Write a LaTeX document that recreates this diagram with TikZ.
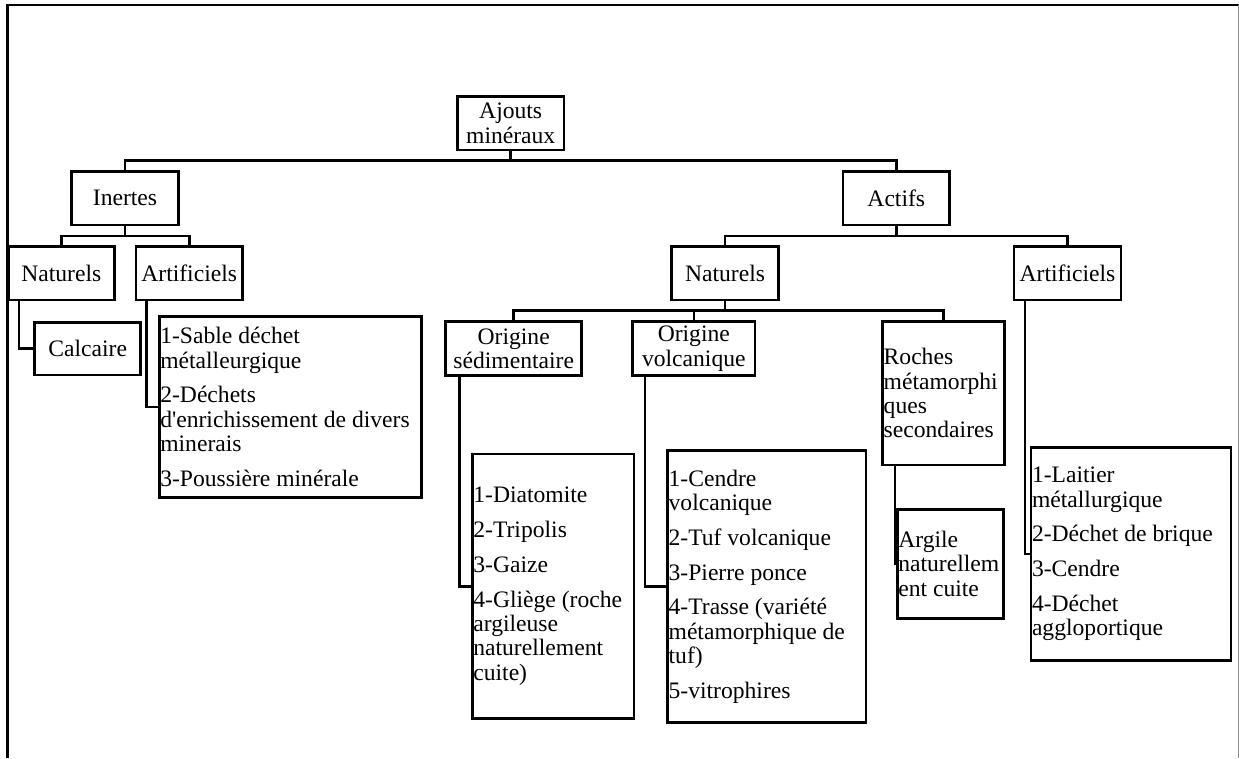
\documentclass[tikz,border=0pt]{standalone}
\usepackage{fontspec}
\newfontfamily\dfont{Liberation Serif}
\newcommand\dsize{\dfont\fontsize{23.6pt}{24.3pt}\selectfont}
\begin{document}
\begin{tikzpicture}[x=1pt,y=-1pt,
  box/.style={draw, line width=2.6pt, inner xsep=1pt, inner ysep=0pt, outer sep=0pt, font=\dsize},
  cbox/.style={box, align=flush center},
  lbox/.style={box, align=flush left},
  bsize/.style n args={2}{minimum width=#1, minimum height=#2},
  lsize/.style n args={3}{minimum width=#1, minimum height=#2, text width=#3},
  link/.style={line width=2.6pt}]
\useasboundingbox (0,0) rectangle (1239,758);
\fill[white] (0,0) rectangle (1239,758);
% frame
\draw[line width=2.2pt] (6,5) -- (1239,5);
\draw[line width=3.4pt] (7.6,4) -- (7.6,758);
\draw[line width=1pt, black!45] (1238.3,5) -- (1238.3,758);

% level 0-2
\node[cbox, bsize={106.7pt}{53.7pt}] (ajouts) at (510.7,123.2) {Ajouts\\minéraux};
\node[cbox, bsize={106.6pt}{53.3pt}] (inertes) at (125,198.3) {Inertes};
\node[cbox, bsize={106.7pt}{53.3pt}] (actifs) at (896.3,198.3) {Actifs};
\node[cbox, bsize={106pt}{53.3pt}] (natL) at (61.3,273.3) {Naturels};
\node[cbox, bsize={106.3pt}{53.3pt}] (artL) at (189.2,273.3) {Artificiels};
\node[cbox, bsize={106.6pt}{53.3pt}] (natR) at (725,273.3) {Naturels};
\node[cbox, bsize={107pt}{53.3pt}] (artR) at (1067.5,273.3) {Artificiels};

% level 3
\node[cbox, bsize={106pt}{52.7pt}] (calcaire) at (87.7,348.7) {Calcaire};
\node[lbox, lsize={262.4pt}{180.6pt}{260.4pt}] (sable) at (290.5,407)
  {1-Sable déchet\\métalleurgique\\[10.5pt]2-Déchets\\d'enrichissement de divers\\minerais\\[10.5pt]3-Poussière minérale};
\node[cbox, bsize={136pt}{54pt}] (sed) at (513.7,348.7) {Origine\\sédimentaire};
\node[cbox, bsize={122.3pt}{54pt}] (volc) at (693.8,348.7) {Origine\\volcanique};
\node[lbox, lsize={121.6pt}{143.3pt}{119.6pt}] (roches) at (943.5,393.3)
  {Roches\\métamorphi\\ques\\secondaires};

% level 4
\node[lbox, lsize={161.7pt}{264.3pt}{159.7pt}] (diat) at (553.2,586.2)
  {1-Diatomite\\[10.5pt]2-Tripolis\\[10.5pt]3-Gaize\\[10.5pt]4-Gliège (roche\\argileuse\\naturellement\\cuite)};
\node[lbox, lsize={198.3pt}{271.8pt}{196.3pt}] (volcl) at (766.8,586.6)
  {1-Cendre\\volcanique\\[10.5pt]2-Tuf volcanique\\[10.5pt]3-Pierre ponce\\[10.5pt]4-Trasse (variété\\métamorphique de\\tuf)\\[10.5pt]5-vitrophires};
\node[lbox, lsize={106.4pt}{109pt}{104.4pt}] (argile) at (950.5,563.8)
  {Argile\\naturellem\\ent cuite};
\node[lbox, lsize={200pt}{213.4pt}{198pt}] (laitier) at (1131,554)
  {1-Laitier\\métallurgique\\[10.5pt]2-Déchet de brique\\[10.5pt]3-Cendre\\[10.5pt]4-Déchet\\aggloportique};

% bus lines
\coordinate (b0) at (0,160.3);
\coordinate (b1) at (0,236);
\coordinate (b2) at (0,310.7);
\draw[link] (ajouts.south) -- (ajouts.south |- b0);
\draw[link] (inertes.north) -- (inertes.north |- b0) -- (actifs.north |- b0) -- (actifs.north);
\draw[link] (inertes.south) -- (inertes.south |- b1);
\draw[link] (natL.north) -- (natL.north |- b1) -- (artL.north |- b1) -- (artL.north);
\draw[link] (actifs.south) -- (actifs.south |- b1);
\draw[link] (natR.north) -- (natR.north |- b1) -- (artR.north |- b1) -- (artR.north);
\draw[link] (natR.south) -- (natR.south |- b2);
\draw[link] (sed.north) -- (sed.north |- b2) -- (roches.north |- b2) -- (roches.north);
\draw[link] (volc.north) -- (volc.north |- b2);

% side connectors
\draw[link] ([xshift=10.7pt]natL.south west) |- (calcaire.west);
\draw[link] ([xshift=10.7pt]artL.south west) |- (sable.west);
\draw[link] ([xshift=13.6pt]sed.south west) |- (diat.west);
\draw[link] ([xshift=12.3pt]volc.south west) |- (volcl.west);
\draw[link] ([xshift=12.3pt]roches.south west) |- (argile.west);
\draw[link] ([xshift=11pt]artR.south west) |- (laitier.west);
\end{tikzpicture}
\end{document}
